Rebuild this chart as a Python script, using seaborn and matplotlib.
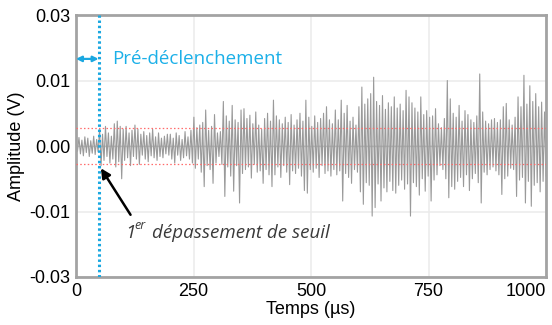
import numpy as np
import pandas as pd
import matplotlib
matplotlib.use("Agg")
import matplotlib.pyplot as plt
import seaborn as sns

# Acoustic-emission burst: successive extrema of the recorded waveform (mV),
# five 200 µs windows of 64 extrema each.
seg_0_200 = [1.0, -0.8, 1.3, -1.2, 0.9, -1.5, 1.4, -1.0, 1.2, -1.6, 0.8, -1.1, 1.5, -1.3, 1.0, -0.9,
             2.5, -3.0, 1.8, -2.2, 3.0, -1.6, 2.0, -2.6, 1.5, -2.0, 3.4, -3.2, 3.8, -2.4, 3.0, -5.0,
             2.6, -2.2, 3.0, -1.8, 2.0, -3.0, 2.4, -1.6, 3.2, -2.0, 2.6, -2.8, 1.8, -1.4, 2.2, -2.0,
             1.6, -2.4, 2.0, -1.5, 2.6, -1.8, 1.4, -2.2, 2.0, -1.6, 1.2, -1.8, 1.5, -1.2, 1.8, -1.4]
seg_200_400 = [1.8, -2.0, 1.2, -2.6, 2.0, -1.4, 1.6, -2.2, 1.0, -1.8, 2.2, -1.5, 1.4, -2.0, 2.4, -2.6,
               4.4, -3.4, 2.8, -2.0, 3.2, -4.0, 3.6, -6.2, 5.5, -3.0, 2.4, -3.6, 3.0, -5.7, 4.8, -2.6,
               2.0, -1.6, 2.2, -2.8, 6.8, -7.7, 4.6, -3.2, 3.8, -4.6, 6.2, -6.9, 4.0, -3.0, 3.6, -8.7,
               5.5, -4.2, 5.7, -3.6, 4.2, -3.2, 4.7, -4.9, 3.4, -2.8, 5.2, -4.0, 3.2, -3.8, 2.6, -5.7]
seg_400_600 = [4.2, -3.6, 5.0, -4.4, 3.8, -6.2, 7.0, -4.4, 4.6, -3.2, 4.0, -4.8, 3.4, -3.0, 4.4, -4.0,
               3.6, -5.9, 4.8, -3.8, 3.2, -4.2, 4.0, -3.4, 5.0, -4.6, 3.8, -6.8, 7.0, -7.2, 4.4, -3.6,
               3.0, -4.0, 4.6, -3.4, 3.6, -4.8, 4.2, -3.0, 5.0, -4.2, 6.0, -3.8, 4.0, -4.6, 3.4, -3.6,
               5.5, -4.4, 4.0, -3.8, 7.0, -8.4, 5.0, -4.2, 6.2, -4.8, 3.8, -5.7, 4.4, -3.6, 3.2, -4.0]
seg_600_800 = [6.0, -7.0, 9.0, -8.9, 6.4, -5.6, 7.2, -6.0, 8.0, -10.7, 10.5, -9.4, 6.8, -5.8, 6.2, -8.4,
               7.7, -6.4, 5.6, -7.0, 6.6, -5.4, 6.0, -6.8, 7.5, -7.2, 5.8, -6.0, 6.4, -5.2, 5.4, -6.6,
               8.5, -5.8, 7.5, -10.7, 6.6, -5.6, 5.8, -6.2, 5.2, -7.5, 7.5, -5.0, 4.8, -6.9, 5.4, -4.6,
               4.4, -8.4, 4.6, -5.2, 5.7, -4.4, 3.4, -3.0, 2.8, -3.6, 4.2, -5.0, 10.0, -7.9, 7.2, -6.2]
seg_800_1000 = [5.0, -6.6, 4.4, -5.4, 6.2, -4.8, 3.8, -6.2, 5.4, -4.4, 4.8, -6.8, 4.0, -5.0, 3.6, -4.2,
                4.6, -5.6, 11.0, -8.7, 5.2, -4.0, 3.8, -4.4, 3.4, -3.6, 4.0, -3.2, 4.2, -3.8, 3.6, -4.4,
                4.0, -7.4, 6.0, -5.0, 6.5, -4.6, 4.0, -3.4, 3.2, -3.6, 4.4, -7.7, 7.5, -5.2, 6.0, -4.8,
                10.8, -8.7, 6.4, -5.4, 9.2, -9.2, 6.8, -6.0, 8.0, -5.6, 6.0, -7.0, 6.7, -5.4, 5.2, -4.6]

threshold_v = 0.0027          # detection threshold (V)
pretrigger_us = 48            # end of the pre-trigger window (µs)
first_crossing = (53, -0.0034)

x_ticks = [0, 250, 500, 750, 1000]
y_ticks = [0.02, 0.01, 0.0, -0.01, -0.02]
y_tick_labels = ["0.03", "0.01", "0.00", "-0.01", "-0.03"]

amp_mv = np.concatenate([seg_0_200, seg_200_400, seg_400_600, seg_600_800, seg_800_1000])
time_us = np.linspace(0, 1000, len(amp_mv))
df = pd.DataFrame({"Temps (µs)": time_us, "Amplitude (V)": amp_mv * 1e-3})

sns.set_theme(style="white")
plt.rcParams["font.family"] = ["Liberation Sans", "DejaVu Sans"]

fig = plt.figure(figsize=(5.52, 3.25), dpi=100)
ax = fig.add_axes([0.1377, 0.1477, 0.8515, 0.8061])

ax.grid(True, color="#ebebeb", lw=1.1, zorder=0)
ax.axhline(0, color="#c4c4c4", lw=1.0, zorder=1)

sns.lineplot(data=df, x="Temps (µs)", y="Amplitude (V)", ax=ax, estimator=None,
             sort=False, color="#9a9a9a", lw=0.8, zorder=2)

for th in (threshold_v, -threshold_v):
    ax.axhline(th, color="#ff6b6b", lw=0.9, ls=(0, (1.2, 1.8)), zorder=3)

ax.axvline(pretrigger_us, color="#1aa7e0", lw=2.2, ls=(0, (0.8, 0.9)), zorder=4)

ax.set_xlim(0, 1000)
ax.set_ylim(-0.02, 0.02)
ax.set_xticks(x_ticks)
ax.set_xticklabels([str(v) for v in x_ticks])
ax.set_yticks(y_ticks)
ax.set_yticklabels(y_tick_labels)
ax.tick_params(direction="in", length=3, width=1, color="#a0a0a0",
               labelsize=13, labelcolor="black", pad=4)
ax.get_xticklabels()[-1].set_horizontalalignment("right")
for s in ax.spines.values():
    s.set_visible(True)
    s.set_color("#a3a3a3")
    s.set_linewidth(2)
ax.set_xlabel("Temps (µs)", fontsize=13, labelpad=1, color="black")
ax.set_ylabel("Amplitude (V)", fontsize=13, labelpad=3, color="black")

# Pre-trigger window marker
ax.annotate("", xy=(0, 0.0133), xytext=(pretrigger_us, 0.0133),
            arrowprops=dict(arrowstyle="<|-|>", color="#1aa7e0", lw=1.6,
                            mutation_scale=8, shrinkA=0, shrinkB=0), zorder=5)
ax.text(77, 0.0133, "Pré-déclenchement", color="#1cb0e8", fontsize=13.5,
        family=["Open Sans", "DejaVu Sans"], va="center", ha="left", zorder=5)

# First threshold crossing
ax.annotate("", xy=first_crossing, xytext=(116, -0.0105),
            arrowprops=dict(arrowstyle="-|>", color="black", lw=1.8,
                            mutation_scale=14, shrinkA=0, shrinkB=0), zorder=6)
txt_kw = dict(color="#3a3a3a", family=["Open Sans", "DejaVu Sans"], style="italic",
              va="baseline", ha="left", zorder=6)
ax.text(104, -0.0141, "1", fontsize=13.5, **txt_kw)
ax.text(125, -0.0126, "er", fontsize=9, **txt_kw)
ax.text(161, -0.0141, "dépassement de seuil", fontsize=13.5, **txt_kw)

fig.savefig("out.png", dpi=100)
